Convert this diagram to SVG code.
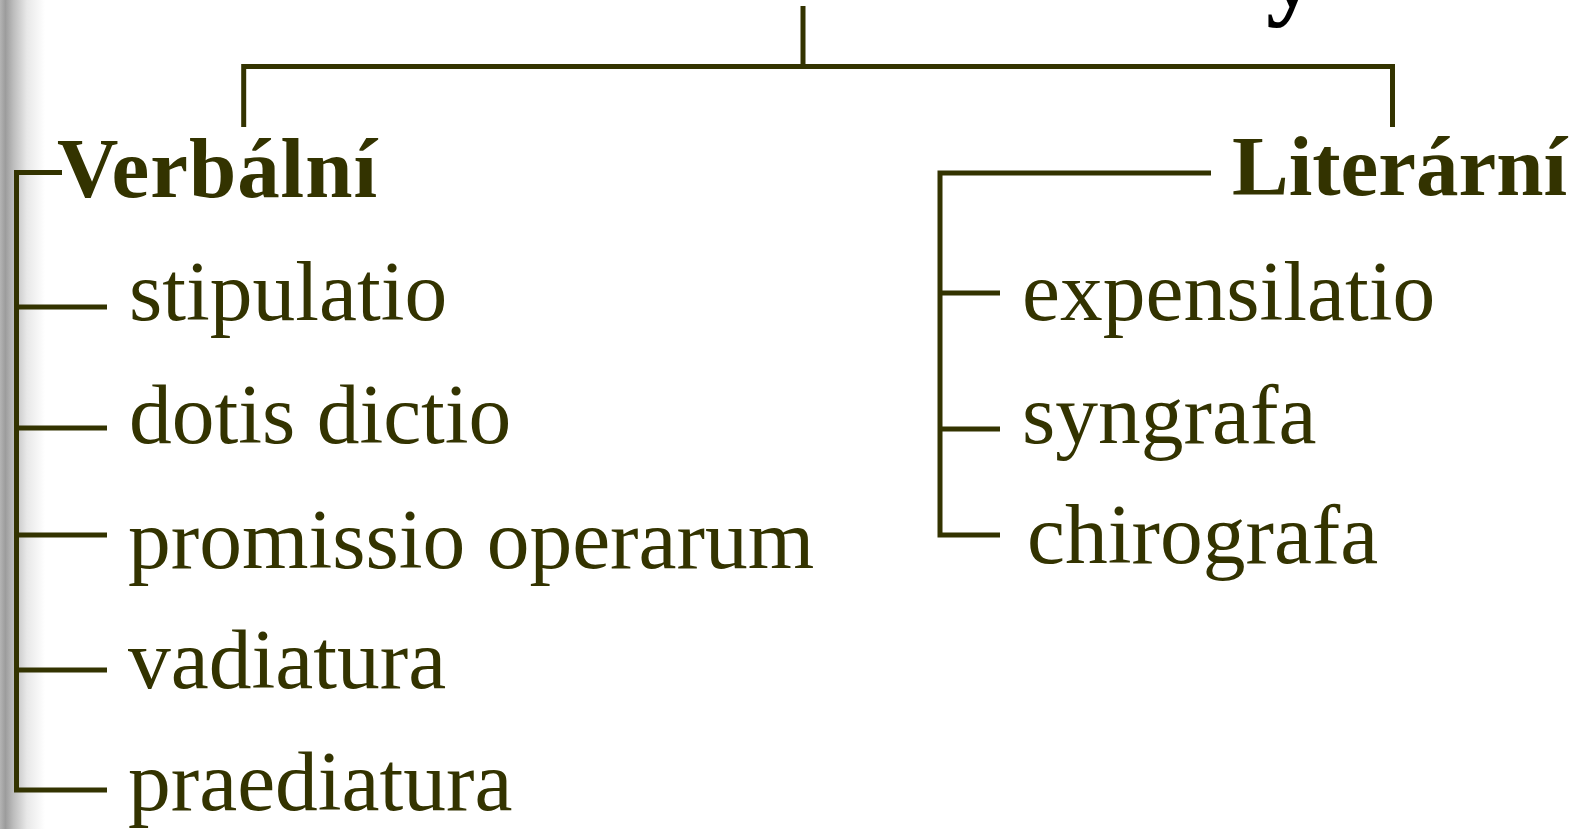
<svg xmlns="http://www.w3.org/2000/svg" width="1594" height="829" viewBox="0 0 1594 829">
  <defs>
    <linearGradient id="edge" x1="0" y1="0" x2="1" y2="0">
      <stop offset="0" stop-color="#b4b4b4"/>
      <stop offset="0.12" stop-color="#9c9c9c"/>
      <stop offset="0.3" stop-color="#bdbdbd"/>
      <stop offset="0.6" stop-color="#e8e8e8"/>
      <stop offset="1" stop-color="#ffffff"/>
    </linearGradient>
  </defs>
  <style>
    .ln { fill: none; stroke: #333300; stroke-width: 5; stroke-linejoin: miter; stroke-linecap: butt; }
    .hd { font-family: "Liberation Serif", "Times New Roman", serif; font-weight: bold; font-size: 85px; fill: #333300; }
    .it { font-family: "Liberation Serif", "Times New Roman", serif; font-size: 85.5px; fill: #333300; }
    .ti { font-family: "Liberation Serif", "Times New Roman", serif; font-weight: bold; font-size: 104px; fill: #000000; }
  </style>
  <rect x="0" y="0" width="1594" height="829" fill="#ffffff"/>
  <rect x="0" y="0" width="45" height="829" fill="url(#edge)"/>

  <g id="title-fragment">
    <text class="ti" x="1266" y="6">y</text>
  </g>

  <g id="connectors">
    <path class="ln" d="M803 6 V66.5"/>
    <path class="ln" d="M243.7 127 V66.5 H1392.5 V127"/>
    <path class="ln" d="M62 172.5 H16.5 V790 H107"/>
    <path class="ln" d="M16.5 307 H107"/>
    <path class="ln" d="M16.5 428 H107"/>
    <path class="ln" d="M16.5 535 H107"/>
    <path class="ln" d="M16.5 670 H107"/>
    <path class="ln" d="M1211 173 H940 V535 H1000"/>
    <path class="ln" d="M940 293 H1000"/>
    <path class="ln" d="M940 429 H1000"/>
  </g>

  <g id="verbalni"><text class="hd" x="57" y="197" textLength="320" lengthAdjust="spacing">Verbální</text></g>
  <g id="stipulatio"><text class="it" x="129" y="320">stipulatio</text></g>
  <g id="dotis-dictio"><text class="it" x="129" y="443">dotis dictio</text></g>
  <g id="promissio-operarum"><text class="it" x="128" y="568">promissio operarum</text></g>
  <g id="vadiatura"><text class="it" x="128" y="688">vadiatura</text></g>
  <g id="praediatura"><text class="it" x="128" y="810">praediatura</text></g>

  <g id="literarni"><text class="hd" x="1232" y="195">Literární</text></g>
  <g id="expensilatio"><text class="it" x="1022" y="320">expensilatio</text></g>
  <g id="syngrafa"><text class="it" x="1022" y="443">syngrafa</text></g>
  <g id="chirografa"><text class="it" x="1027" y="563">chirografa</text></g>
</svg>
